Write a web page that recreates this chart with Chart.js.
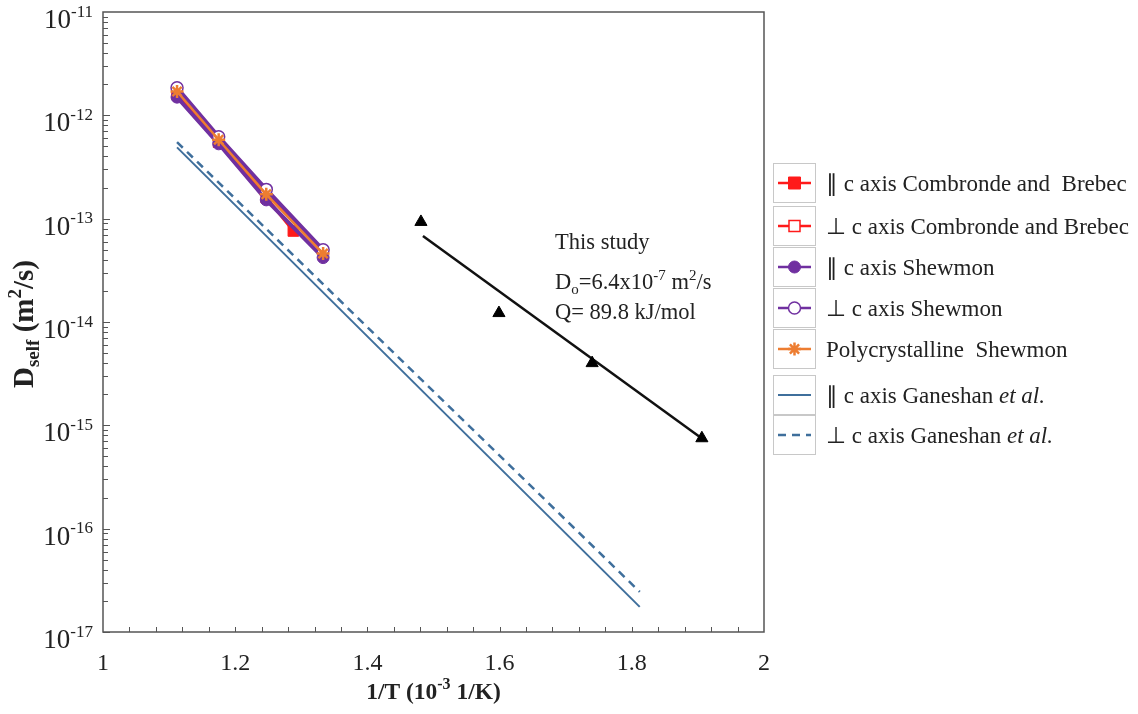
<!DOCTYPE html>
<html>
<head>
<meta charset="utf-8">
<script src="https://cdn.jsdelivr.net/npm/chart.js@4.4.1/dist/chart.umd.min.js"></script>
<style>
  html, body { margin: 0; padding: 0; background: #fff; }
  #wrap { width: 1138px; height: 714px; }
</style>
</head>
<body>
<div id="wrap"><canvas id="chart" width="1138" height="714"></canvas></div>
<script>
// valores (1/T em 10^-3 1/K, D em m2/s)
const cluX = [1.112, 1.175, 1.247, 1.333];
const cbParX = [1.112, 1.175, 1.247, 1.288];
const cbParY = [1.6e-12, 5.5e-13, 1.6e-13, 7.6e-14];
const cbPerpY = [1.8e-12, 6.0e-13, 1.8e-13, 4.8e-14];
const shParY = [1.5e-12, 5.3e-13, 1.52e-13, 4.2e-14];
const shPerpY = [1.85e-12, 6.2e-13, 1.92e-13, 5.0e-14];
const polyY = [1.7e-12, 5.8e-13, 1.72e-13, 4.6e-14];
const ganX = [1.112, 1.812];
const ganParY = [4.9e-13, 1.75e-17];
const ganPerpY = [5.5e-13, 2.45e-17];
const studyX = [1.481, 1.599, 1.740, 1.906];
const studyY = [9.3e-14, 1.22e-14, 4.0e-15, 7.5e-16];
const fitX = [1.484, 1.903];
const fitY = [6.8e-14, 7.7e-16];

const xTicks = [1, 1.2, 1.4, 1.6, 1.8, 2];
const yExps = [-11, -12, -13, -14, -15, -16, -17];

const legendLabels = [
  [['∥ c axis Combronde and  Brebec', '']],
  [['⊥ c axis Combronde and Brebec', '']],
  [['∥ c axis Shewmon', '']],
  [['⊥ c axis Shewmon', '']],
  [['Polycrystalline  Shewmon', '']],
  [['∥ c axis Ganeshan ', ''], ['et al.', 'i']],
  [['⊥ c axis Ganeshan ', ''], ['et al.', 'i']]
];

const SERIF = '"Liberation Serif", "Times New Roman", serif';

function pts(xs, ys) {
  return xs.map((x, i) => ({ x: x, y: ys[i] }));
}

// texto com sobrescrito / subscrito
function rich(ctx, parts, x, y, size, align, bold, subRatio) {
  const b = bold ? 'bold ' : '';
  const sr = subRatio || 0.66;
  const fontFor = k => {
    if (k === 'sup' || k === 'sub') return b + Math.round(size * sr) + 'px ' + SERIF;
    if (k === 'i') return 'italic ' + b + size + 'px ' + SERIF;
    return b + size + 'px ' + SERIF;
  };
  let w = 0;
  parts.forEach(p => { ctx.font = fontFor(p[1]); w += ctx.measureText(p[0]).width; });
  let cx = align === 'center' ? x - w / 2 : (align === 'right' ? x - w : x);
  ctx.textAlign = 'left';
  ctx.textBaseline = 'alphabetic';
  parts.forEach(p => {
    ctx.font = fontFor(p[1]);
    let dy = 0;
    if (p[1] === 'sup') dy = -size * 0.42;
    if (p[1] === 'sub') dy = size * 0.22;
    ctx.fillText(p[0], cx, y + dy);
    cx += ctx.measureText(p[0]).width;
  });
}

function marker(ctx, ds, x, y) {
  const r = ds.pointRadius || 0;
  if (!r) return;
  ctx.save();
  ctx.lineWidth = ds.pointBorderWidth || 1.5;
  ctx.strokeStyle = ds.pointBorderColor || ds.borderColor;
  ctx.fillStyle = ds.pointBackgroundColor || ds.borderColor;
  ctx.beginPath();
  if (ds.pointStyle === 'rect') {
    const s = Math.min(r, 6);
    ctx.rect(x - s, y - s, 2 * s, 2 * s);
    ctx.fill(); ctx.stroke();
  } else if (ds.pointStyle === 'circle') {
    ctx.arc(x, y, r, 0, Math.PI * 2);
    ctx.fill(); ctx.stroke();
  } else if (ds.pointStyle === 'star') {
    for (let a = 0; a < 4; a++) {
      const ang = Math.PI / 4 * a;
      ctx.moveTo(x - r * Math.cos(ang), y - r * Math.sin(ang));
      ctx.lineTo(x + r * Math.cos(ang), y + r * Math.sin(ang));
    }
    ctx.stroke();
  }
  ctx.restore();
}

const framePlugin = {
  id: 'frame',
  beforeDatasetsDraw(chart) {
    const { ctx, chartArea: a, scales } = chart;
    ctx.save();
    ctx.strokeStyle = '#555';
    ctx.lineWidth = 1.5;
    ctx.strokeRect(a.left, a.top, a.right - a.left, a.bottom - a.top);
    // marcas internas do eixo x
    ctx.lineWidth = 1;
    ctx.beginPath();
    for (let v = 1.04; v < 1.999; v += 0.04) {
      const px = Math.round(scales.x.getPixelForValue(v)) + 0.5;
      ctx.moveTo(px, a.bottom);
      ctx.lineTo(px, a.bottom - 5);
    }
    // marcas internas do eixo y (log)
    for (let e = -17; e < -11; e++) {
      for (let k = 1; k <= 9; k++) {
        const py = Math.round(scales.y.getPixelForValue(k * Math.pow(10, e))) + 0.5;
        ctx.moveTo(a.left, py);
        ctx.lineTo(a.left + (k === 1 ? 7 : 5), py);
      }
    }
    ctx.stroke();
    ctx.restore();
  },
  afterDraw(chart) {
    const { ctx, chartArea: a, scales } = chart;
    ctx.save();
    ctx.fillStyle = '#222';
    // rótulos do eixo y
    yExps.forEach(e => {
      const py = scales.y.getPixelForValue(Math.pow(10, e));
      rich(ctx, [['10', ''], [String(e), 'sup']], 93, py + 16, 27, 'right', false, 0.63);
    });
    // títulos dos eixos
    ctx.save();
    ctx.translate(33, 324);
    ctx.rotate(-Math.PI / 2);
    rich(ctx, [['D', ''], ['self', 'sub'], [' (m', ''], ['2', 'sup'], ['/s)', '']], 0, 0, 29, 'center', true);
    ctx.restore();
    rich(ctx, [['1/T (10', ''], ['-3', 'sup'], [' 1/K)', '']], (a.left + a.right) / 2, 699, 23.5, 'center', true);

    // anotação
    rich(ctx, [['This study', '']], 555, 249, 22.5, 'left');
    rich(ctx, [['D', ''], ['o', 'sub'], ['=6.4x10', ''], ['-7', 'sup'], [' m', ''], ['2', 'sup'], ['/s', '']], 555, 289, 22.5, 'left');
    rich(ctx, [['Q= 89.8 kJ/mol', '']], 555, 319, 22.5, 'left');

    // legenda
    const rows = [183, 226, 267, 308, 349, 395, 435];
    const dss = chart.data.datasets;
    rows.forEach((ry, i) => {
      const ds = dss[i];
      ctx.save();
      ctx.strokeStyle = '#c8c8c8';
      ctx.lineWidth = 1;
      ctx.strokeRect(773.5, ry - 19.5, 42, 39);
      ctx.strokeStyle = ds.borderColor;
      ctx.lineWidth = Math.min(ds.borderWidth, 2.5);
      ctx.setLineDash(ds.borderDash || []);
      ctx.beginPath();
      ctx.moveTo(778, ry);
      ctx.lineTo(811, ry);
      ctx.stroke();
      ctx.setLineDash([]);
      marker(ctx, ds, 794.5, ry);
      ctx.restore();
      ctx.fillStyle = '#222';
      rich(ctx, legendLabels[i], 826, ry + 8, 23, 'left');
    });
    ctx.restore();
  }
};

const RED = '#ff1a1a';
const PURPLE = '#7030a0';
const ORANGE = '#ed7d31';
const BLUE = '#3f6f9c';

// order: o menor valor fica por cima
const datasets = [
  { label: '∥ c axis Combronde and Brebec', data: pts(cbParX, cbParY), borderColor: RED, borderWidth: 3, order: 6,
    pointStyle: 'rect', pointRadius: 7.5, pointBackgroundColor: RED, pointBorderColor: RED, pointBorderWidth: 1 },
  { label: '⊥ c axis Combronde and Brebec', data: pts(cluX, cbPerpY), borderColor: RED, borderWidth: 3, order: 5,
    pointStyle: 'rect', pointRadius: 5.5, pointBackgroundColor: '#fff', pointBorderColor: RED, pointBorderWidth: 1.5 },
  { label: '∥ c axis Shewmon', data: pts(cluX, shParY), borderColor: PURPLE, borderWidth: 4, order: 4,
    pointStyle: 'circle', pointRadius: 6, pointBackgroundColor: PURPLE, pointBorderColor: PURPLE, pointBorderWidth: 1 },
  { label: '⊥ c axis Shewmon', data: pts(cluX, shPerpY), borderColor: PURPLE, borderWidth: 4, order: 3,
    pointStyle: 'circle', pointRadius: 6, pointBackgroundColor: '#fff', pointBorderColor: PURPLE, pointBorderWidth: 1.5 },
  { label: 'Polycrystalline Shewmon', data: pts(cluX, polyY), borderColor: ORANGE, borderWidth: 2.5, order: 2,
    pointStyle: 'star', pointRadius: 6.5, pointBackgroundColor: ORANGE, pointBorderColor: ORANGE, pointBorderWidth: 2.5 },
  { label: '∥ c axis Ganeshan et al.', data: pts(ganX, ganParY), borderColor: BLUE, borderWidth: 2, order: 8,
    pointRadius: 0 },
  { label: '⊥ c axis Ganeshan et al.', data: pts(ganX, ganPerpY), borderColor: BLUE, borderWidth: 2.5, order: 7,
    borderDash: [8, 6], pointRadius: 0 },
  { label: 'This study', data: pts(studyX, studyY), showLine: false, borderColor: '#000', order: 0,
    pointStyle: 'triangle', pointRadius: 7, pointBackgroundColor: '#000', pointBorderColor: '#000' },
  { label: 'fit', data: pts(fitX, fitY), borderColor: '#111', borderWidth: 2.5, pointRadius: 0, order: 1 }
];

new Chart(document.getElementById('chart'), {
  type: 'line',
  data: { datasets: datasets },
  options: {
    responsive: false,
    animation: false,
    layout: { padding: { left: 0, right: 374, top: 12, bottom: 0 } },
    plugins: { legend: { display: false }, tooltip: { enabled: false } },
    scales: {
      x: {
        type: 'linear', min: 1, max: 2,
        afterBuildTicks: s => { s.ticks = xTicks.map(v => ({ value: v })); },
        afterFit: s => { s.height = 82; },
        ticks: { font: { family: SERIF, size: 24 }, color: '#222', padding: 17, maxRotation: 0,
                 callback: v => String(v) },
        grid: { display: false, drawTicks: false },
        border: { display: false }
      },
      y: {
        type: 'logarithmic', min: 1e-17, max: 1e-11,
        afterFit: s => { s.width = 103; },
        ticks: { display: false },
        grid: { display: false, drawTicks: false },
        border: { display: false }
      }
    }
  },
  plugins: [framePlugin]
});
</script>
</body>
</html>
